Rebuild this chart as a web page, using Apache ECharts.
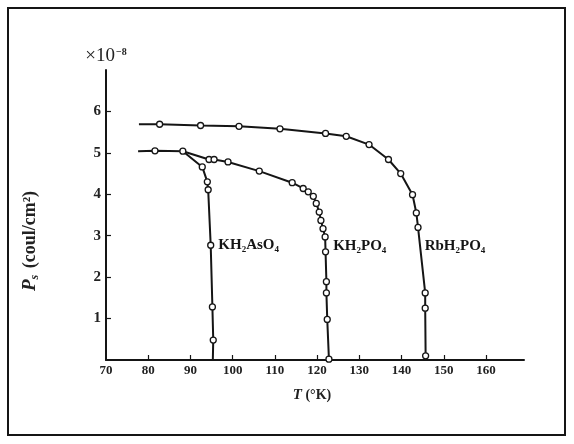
<!DOCTYPE html>
<html lang="en">
<head>
  <meta charset="UTF-8">
  <title>Ps vs T</title>
  <style>
    html,
    body {
      padding: 0;
      margin: 0;
      background: #fff;
    }
  </style>
  <script src="https://cdn.jsdelivr.net/npm/echarts@6.0.0/dist/echarts.min.js"></script>
</head>
<body>
  <div id="demo" style="width:574px;height:444px"></div>
  <script>
    // measured points [T (K), Ps (1e-8 coul/cm2)]
    const rbPoints = [[82.7, 5.69], [92.4, 5.66], [101.5, 5.64], [111.2, 5.58], [122.0, 5.47], [126.9, 5.40], [132.3, 5.20], [136.9, 4.84], [139.8, 4.50], [142.6, 3.99], [143.5, 3.55], [143.9, 3.20], [145.6, 1.62], [145.6, 1.25], [145.7, 0.10]]
    const rbEnds = [[77.8, 5.69], [145.8, 0]]
    const kdpPoints = [[81.6, 5.05], [88.2, 5.04], [94.4, 4.84], [95.6, 4.84], [98.9, 4.78], [106.3, 4.56], [114.1, 4.28], [116.7, 4.14], [117.9, 4.06], [119.1, 3.95], [119.8, 3.78], [120.5, 3.57], [120.9, 3.37], [121.4, 3.17], [121.9, 2.97], [122.0, 2.61], [122.2, 1.89], [122.2, 1.62], [122.4, 0.98], [122.8, 0.02]]
    const kdpEnds = [[77.6, 5.04], [122.8, 0]]
    const kdaPoints = [[92.8, 4.66], [94.0, 4.30], [94.2, 4.11], [94.8, 2.77], [95.2, 1.28], [95.4, 0.48]]
    const kdaEnds = [[88.2, 5.04], [95.3, 0]]

    const seriesNames = ['RbH₂PO₄', 'KH₂PO₄', 'KH₂AsO₄']
    const xTicks = [70, 80, 90, 100, 110, 120, 130, 140, 150, 160]
    const yTicks = [1, 2, 3, 4, 5, 6]

    const serif = 'Liberation Serif'
    const ink = '#151515'

    // which point carries the name label, and how it's nudged
    const labelAt = [
      { idx: 11, offset: [-1, 19] },
      { idx: 15, offset: [0, -6] },
      { idx: 3, offset: [0, 0] }
    ]

    function buildData (points, ends, name, lab) {
      const data = [{ value: ends[0], symbol: 'none' }]
      points.forEach((p, i) => {
        const item = { value: p }
        if (i === lab.idx) {
          item.label = {
            show: true,
            position: 'right',
            distance: 4,
            offset: lab.offset,
            formatter: name,
            fontFamily: serif,
            fontSize: 15,
            fontWeight: 'bold',
            color: ink
          }
        }
        data.push(item)
      })
      data.push({ value: ends[1], symbol: 'none' })
      return data
    }

    const allPoints = [rbPoints, kdpPoints, kdaPoints]
    const allEnds = [rbEnds, kdpEnds, kdaEnds]

    const chart = echarts.init(document.getElementById('demo'))
    const option = {
      animation: false,
      backgroundColor: '#fff',
      grid: { left: 106, right: 50, top: 70, bottom: 84, containLabel: false },
      xAxis: {
        type: 'value',
        min: 70,
        max: 169,
        interval: 10,
        splitLine: { show: false },
        axisLine: { lineStyle: { color: ink, width: 2 } },
        axisTick: { inside: true, length: 5, customValues: xTicks.slice(1), lineStyle: { color: ink, width: 1.2 } },
        axisLabel: { customValues: xTicks, margin: 4, fontFamily: serif, fontSize: 13, fontWeight: 'bold', color: '#222' }
      },
      yAxis: {
        type: 'value',
        min: 0,
        max: 7,
        interval: 1,
        splitLine: { show: false },
        name: '{a|×10}{b|−8}',
        nameLocation: 'end',
        nameGap: 4,
        nameTextStyle: {
          align: 'center',
          rich: {
            a: { fontFamily: serif, fontSize: 19, color: '#222' },
            b: { fontFamily: serif, fontSize: 10, fontWeight: 'bold', color: '#222', padding: [0, 0, 9, 1] }
          }
        },
        axisLine: { lineStyle: { color: ink, width: 2 } },
        axisTick: { inside: true, length: 5, customValues: yTicks, lineStyle: { color: ink, width: 1.2 } },
        axisLabel: { customValues: yTicks, margin: 5, fontFamily: serif, fontSize: 15, fontWeight: 'bold', color: '#222' }
      },
      graphic: [
        {
          type: 'rect',
          shape: { x: 8, y: 8, width: 557, height: 427 },
          style: { fill: 'none', stroke: ink, lineWidth: 2 },
          silent: true
        },
        {
          type: 'text',
          x: 30,
          y: 241,
          rotation: Math.PI / 2,
          style: {
            text: '{p|P}{s|s} (coul/cm²)',
            fontFamily: serif,
            fontSize: 18,
            fontWeight: 'bold',
            fill: '#222',
            align: 'center',
            verticalAlign: 'middle',
            rich: {
              p: { fontFamily: serif, fontSize: 19, fontStyle: 'italic', fontWeight: 'bold', fill: '#222' },
              s: { fontFamily: serif, fontSize: 12, fontStyle: 'italic', fontWeight: 'bold', fill: '#222', padding: [9, 2, 0, 0] }
            }
          }
        },
        {
          type: 'text',
          x: 312,
          y: 395,
          style: {
            text: '{t|T} (°K)',
            fontFamily: serif,
            fontSize: 14,
            fontWeight: 'bold',
            fill: '#222',
            align: 'center',
            verticalAlign: 'middle',
            rich: {
              t: { fontFamily: serif, fontSize: 15, fontStyle: 'italic', fontWeight: 'bold', fill: '#222' }
            }
          }
        }
      ],
      series: seriesNames.map((name, i) => ({
        name: name,
        type: 'line',
        data: buildData(allPoints[i], allEnds[i], name, labelAt[i]),
        showAllSymbol: true,
        symbol: 'circle',
        symbolSize: 6,
        itemStyle: { color: '#fff', borderColor: ink, borderWidth: 1.3 },
        lineStyle: { color: ink, width: 2 },
        emphasis: { disabled: true },
        z: 3 - i
      }))
    }
    chart.setOption(option)
  </script>
</body>
</html>
